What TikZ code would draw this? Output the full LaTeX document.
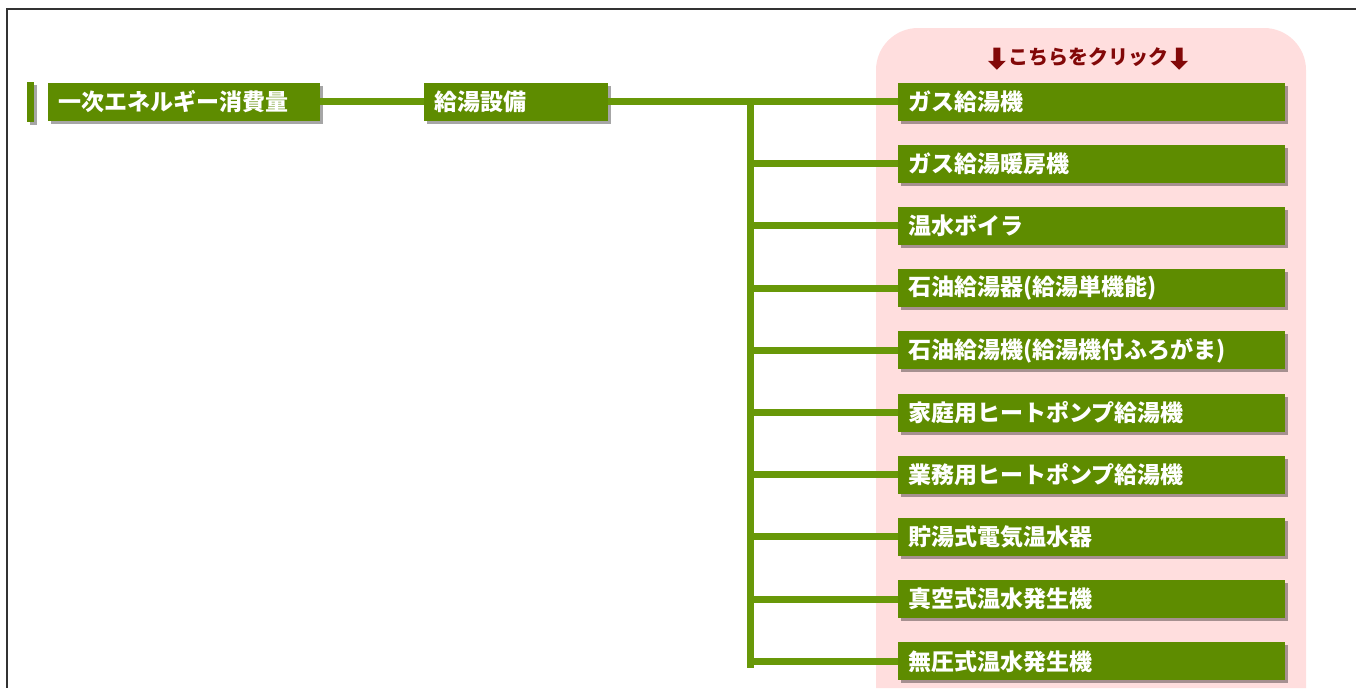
\documentclass[tikz,border=0pt]{standalone}
\usepackage{fontspec}
\newfontfamily\jp{Noto Sans CJK JP}
\usetikzlibrary{shadows,shapes.arrows,positioning}
\definecolor{boxgreen}{RGB}{94,140,0}
\definecolor{linegreen}{RGB}{104,152,8}
\definecolor{panelpink}{RGB}{255,222,222}
\definecolor{clickred}{RGB}{130,8,8}
\definecolor{framegray}{RGB}{50,50,50}
\tikzset{
  item/.style={fill=boxgreen, text=white, anchor=west, align=left,
    font=\jp\bfseries\fontsize{23}{26}\selectfont, minimum height=38pt,
    inner xsep=10pt, inner ysep=0pt,
    drop shadow={shadow xshift=3pt, shadow yshift=-3pt, opacity=0.35, fill=black}},
  conn/.style={linegreen, line width=7pt},
  clickarrow/.style={single arrow, fill=clickred, shape border rotate=270,
    minimum height=22pt, single arrow head extend=5.5pt, inner sep=3.2pt}
}
\begin{document}
\begin{tikzpicture}[x=1pt,y=-1pt]
  \useasboundingbox (0,0) rectangle (1356,688);
  % frame and panel
  \draw[framegray, line width=2pt] (1356,9) -- (7,9) -- (7,688);
  \fill[panelpink] (876,688) {[rounded corners=42pt] -- (876,28) -- (1306,28)} -- (1306,688) -- cycle;
  \node[font=\jp\bfseries\fontsize{20}{22}\selectfont, text=clickred] (click) at (1088,57) {こちらをクリック};
  \node[clickarrow, left=4pt of click] (arrL) {};
  \node[clickarrow, right=4pt of click] (arrR) {};
  % boxes
  \node[fill=boxgreen, minimum width=7pt, minimum height=40pt, inner sep=0pt,
    drop shadow={shadow xshift=3pt, shadow yshift=-3pt, opacity=0.35, fill=black}] (bar) at (30.5,101.5) {};
  \node[item, text width=252pt] (energy) at (48,101.5) {一次エネルギー消費量};
  \node[item, text width=164pt] (hotwater) at (424,101.5) {給湯設備};
  \foreach \txt [count=\i] in {ガス給湯機, ガス給湯暖房機, 温水ボイラ, 石油給湯器(給湯単機能),
      石油給湯機(給湯機付ふろがま), 家庭用ヒートポンプ給湯機, 業務用ヒートポンプ給湯機,
      貯湯式電気温水器, 真空式温水発生機, 無圧式温水発生機}
    \node[item, text width=367pt] (b\i) at (898,{101.5+(\i-1)*62.2}) {\txt};
  % connectors
  \coordinate (ttop) at (750,98);
  \coordinate (tbot) at (750,668);
  \draw[conn] (energy) -- (hotwater);
  \draw[conn] (hotwater) -- (b1);
  \draw[conn] (ttop) -- (tbot);
  \foreach \i in {2,...,10}
    \draw[conn] (ttop |- b\i.west) -- (b\i.west);
\end{tikzpicture}
\end{document}
